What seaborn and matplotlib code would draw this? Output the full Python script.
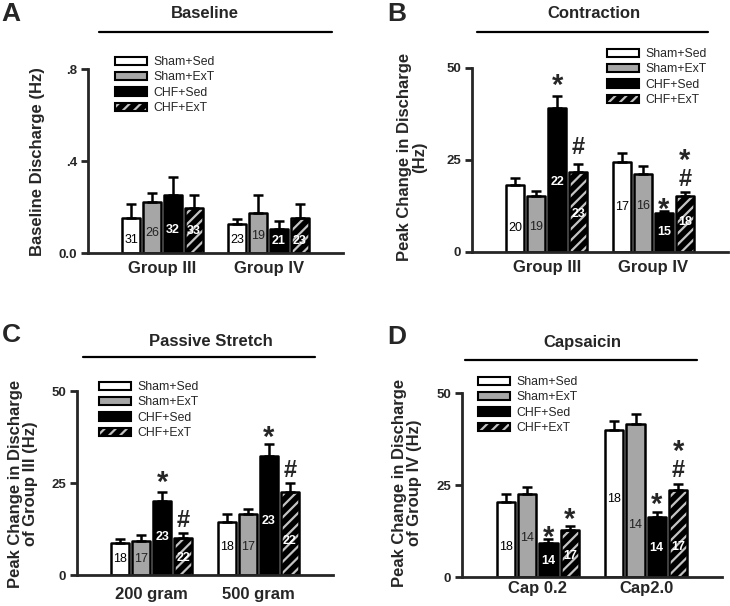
import numpy as np
import pandas as pd
import matplotlib.pyplot as plt
import seaborn as sns
from matplotlib.patches import Patch, Rectangle
from matplotlib.lines import Line2D

#Data (means, SEM, n per bar)
treatments = ["Sham+Sed", "Sham+ExT", "CHF+Sed", "CHF+ExT"]

#A - Baseline
a_groups = ["Group III", "Group IV"]
a_means = [[0.152, 0.223, 0.252, 0.194], [0.125, 0.173, 0.104, 0.154]]
a_sem = [[0.061, 0.037, 0.080, 0.058], [0.023, 0.079, 0.035, 0.058]]
a_n = [[31, 26, 32, 33], [23, 19, 21, 23]]
a_marks = []

#B - Contraction
b_groups = ["Group III", "Group IV"]
b_means = [[18.2, 15.2, 39.0, 21.7], [24.5, 21.2, 10.5, 15.2]]
b_sem = [[1.8, 1.5, 3.4, 2.2], [2.3, 2.3, 0.7, 1.2]]
b_n = [[20, 19, 22, 23], [17, 16, 15, 18]]
b_marks = [(0, 2, "*", 47.3), (0, 3, "#", 29.0), (1, 2, "*", 13.7), (1, 3, "#", 20.3), (1, 3, "*", 26.8)]

#C - Passive stretch
c_groups = ["200 gram", "500 gram"]
c_means = [[8.6, 9.3, 20.2, 10.0], [14.5, 16.6, 32.3, 22.5]]
c_sem = [[1.2, 1.6, 2.3, 1.3], [2.1, 1.3, 3.2, 2.6]]
c_n = [[18, 17, 23, 22], [18, 17, 23, 22]]
c_marks = [(0, 2, "*", 27.2), (0, 3, "#", 15.4), (1, 2, "*", 39.4), (1, 3, "#", 29.0)]

#D - Capsaicin
d_groups = ["Cap 0.2", "Cap2.0"]
d_means = [[20.5, 22.6, 9.3, 12.8], [39.9, 41.5, 16.4, 23.6]]
d_sem = [[2.0, 1.9, 0.9, 1.1], [2.5, 2.8, 1.3, 1.7]]
d_n = [[18, 14, 14, 17], [18, 14, 14, 17]]
d_marks = [(0, 2, "*", 12.8), (0, 3, "*", 17.7), (1, 2, "*", 21.8), (1, 3, "#", 29.5), (1, 3, "*", 36.3)]

#Where the n labels sit inside the bars (y in data units)
a_n_y = [[0.057, 0.087, 0.100, 0.096], [0.057, 0.075, 0.052, 0.052]]
b_n_y = [[6.4, 6.9, 18.9, 10.3], [12.1, 12.6, 5.4, 8.2]]
c_n_y = [[4.3, 4.3, 10.4, 4.5], [7.5, 7.5, 14.8, 9.3]]
d_n_y = [[8.2, 10.7, 4.4, 5.8], [21.2, 14.1, 7.8, 8.2]]

#Styling
sns.set_style("ticks")
plt.rcParams["font.family"] = ["Liberation Sans", "DejaVu Sans"]
plt.rcParams["font.weight"] = "bold"
plt.rcParams["axes.labelweight"] = "bold"
plt.rcParams["hatch.linewidth"] = 1.6

W, H = 730, 606
colors = {"Sham+Sed": "white", "Sham+ExT": "#a6a6a6", "CHF+Sed": "black", "CHF+ExT": "black"}
n_colors = ["black", "#222222", "white", "white"]
n_weights = ["normal", "normal", "bold", "bold"]
hatch_color = "#c4c4c4"

fig = plt.figure(figsize=(W / 100, H / 100), dpi=100)


def px_axes(left, top, right, bottom):
    return fig.add_axes([left / W, 1 - bottom / H, (right - left) / W, (bottom - top) / H])


def fig_text(x, y, s, **kw):
    fig.text(x / W, 1 - y / H, s, **kw)


def draw_panel(ax, groups, means, sem, n, n_y, marks, ymax, yticks, yticklabels,
               ylabel, label_xy, xpad):
    df = pd.DataFrame({
        "group": np.repeat(groups, len(treatments)),
        "treatment": treatments * len(groups),
        "value": np.ravel(means),
    })
    sns.barplot(data=df, x="group", y="value", hue="treatment", order=groups,
                hue_order=treatments, palette=colors, saturation=1, width=0.785,
                gap=0.14, errorbar=None, edgecolor="black", linewidth=1.8,
                legend=False, ax=ax)
    bar_sets = list(ax.containers)

    for ti, container in enumerate(bar_sets):
        xs, hs = [], []
        for gi, bar in enumerate(container):
            bar.set_joinstyle("round")
            x = bar.get_x() + bar.get_width() / 2
            xs.append(x)
            hs.append(bar.get_height())
            if ti == 3:
                bar.set_hatch("///")
                bar.set_edgecolor(hatch_color)
                bar.set_linewidth(0)
                ax.add_patch(Rectangle(bar.get_xy(), bar.get_width(), bar.get_height(),
                                       fill=False, edgecolor="black", linewidth=1.8,
                                       joinstyle="round", zorder=bar.get_zorder() + 0.1))
            ax.text(x, n_y[gi][ti], str(n[gi][ti]), ha="center", va="center",
                    fontsize=9, color=n_colors[ti], weight=n_weights[ti], zorder=5)
        errs = [sem[gi][ti] for gi in range(len(groups))]
        ax.errorbar(xs, hs, yerr=[np.zeros(len(xs)), errs], fmt="none", ecolor="black",
                    elinewidth=1.8, capsize=3.5, capthick=1.8, zorder=1)

    #significance marks
    for gi, ti, sym, y in marks:
        bar = bar_sets[ti][gi]
        x = bar.get_x() + bar.get_width() / 2
        fs = 21 if sym == "*" else 17
        off = 0.55 * fs if sym == "*" else 0.36 * fs
        ax.annotate(sym, (x, y), xytext=(0, -off), textcoords="offset points",
                    ha="center", va="baseline", fontsize=fs, weight="bold")

    ax.set_xlim(-0.70, 1.70)
    ax.set_ylim(0, ymax)
    ax.set_yticks(yticks)
    ax.set_yticklabels(yticklabels)
    ax.set_xlabel("")
    ax.set_ylabel(ylabel, fontsize=12, linespacing=1.0)
    ax.yaxis.set_label_coords(*label_xy)
    sns.despine(ax=ax)
    for side in ["left", "bottom"]:
        ax.spines[side].set_linewidth(2)
    ax.tick_params(axis="y", length=5, width=2, direction="out", labelsize=9.5, pad=3)
    ax.tick_params(axis="x", length=0, labelsize=12, pad=xpad)
    ax.set_facecolor("none")

    handles = [Patch(facecolor=colors[t], edgecolor="black", linewidth=1.5) for t in treatments[:3]]
    handles.append((Patch(facecolor="black", edgecolor=hatch_color, hatch="///", linewidth=0),
                    Patch(fill=False, edgecolor="black", linewidth=1.5)))
    return handles


panels = [
    dict(box=(88, 69, 343, 253), groups=a_groups, means=a_means, sem=a_sem, n=a_n, n_y=a_n_y,
         marks=a_marks, ymax=0.8, yticks=[0, 0.4, 0.8], yticklabels=["0.0", ".4", ".8"],
         ylabel="Baseline Discharge (Hz)", label_xy=(-0.169, 0.495), xpad=6,
         title="Baseline", title_xy=(205, 14), line=(99, 332, 32), letter="A", letter_xy=(1, 14),
         legend_xy=(115, 56)),
    dict(box=(472, 68, 728, 252), groups=b_groups, means=b_means, sem=b_sem, n=b_n, n_y=b_n_y,
         marks=b_marks, ymax=50, yticks=[0, 25, 50], yticklabels=["0", "25", "50"],
         ylabel="Peak Change in Discharge\n(Hz)", label_xy=(-0.176, 0.516), xpad=6,
         title="Contraction", title_xy=(594, 14), line=(477, 708, 32), letter="B", letter_xy=(387, 14),
         legend_xy=(607, 48)),
    dict(box=(77, 391, 333, 575), groups=c_groups, means=c_means, sem=c_sem, n=c_n, n_y=c_n_y,
         marks=c_marks, ymax=50, yticks=[0, 25, 50], yticklabels=["0", "25", "50"],
         ylabel="Peak Change in Discharge\nof Group III (Hz)", label_xy=(-0.152, 0.495), xpad=9,
         title="Passive Stretch", title_xy=(211, 342), line=(83, 315, 357), letter="C", letter_xy=(2, 335),
         legend_xy=(99, 381)),
    dict(box=(462, 393, 722, 577), groups=d_groups, means=d_means, sem=d_sem, n=d_n, n_y=d_n_y,
         marks=d_marks, ymax=50, yticks=[0, 25, 50], yticklabels=["0", "25", "50"],
         ylabel="Peak Change in Discharge\nof Group IV (Hz)", label_xy=(-0.154, 0.51), xpad=3,
         title="Capsaicin", title_xy=(582, 343), line=(465, 697, 360), letter="D", letter_xy=(387, 337),
         legend_xy=(478, 376)),
]

for p in panels:
    ax = px_axes(*p["box"])
    handles = draw_panel(ax, p["groups"], p["means"], p["sem"], p["n"], p["n_y"], p["marks"],
                         p["ymax"], p["yticks"], p["yticklabels"], p["ylabel"], p["label_xy"], p["xpad"])
    lx, ly = p["legend_xy"]
    ax.legend(handles, treatments, loc="upper left", bbox_to_anchor=(lx / W, 1 - ly / H),
              bbox_transform=fig.transFigure, frameon=False, prop={"weight": "normal", "size": 8.8},
              handlelength=2.6, handleheight=0.65, handletextpad=0.55, labelspacing=0.28,
              borderpad=0, borderaxespad=0)
    fig_text(*p["title_xy"], p["title"], ha="center", va="center", fontsize=12, weight="bold")
    x0, x1, yl = p["line"]
    fig.add_artist(Line2D([x0 / W, x1 / W], [1 - yl / H, 1 - yl / H], color="black", linewidth=1.6,
                          transform=fig.transFigure))
    fig_text(*p["letter_xy"], p["letter"], ha="left", va="center", fontsize=19, weight="bold")

fig.savefig("out.png", dpi=100)
